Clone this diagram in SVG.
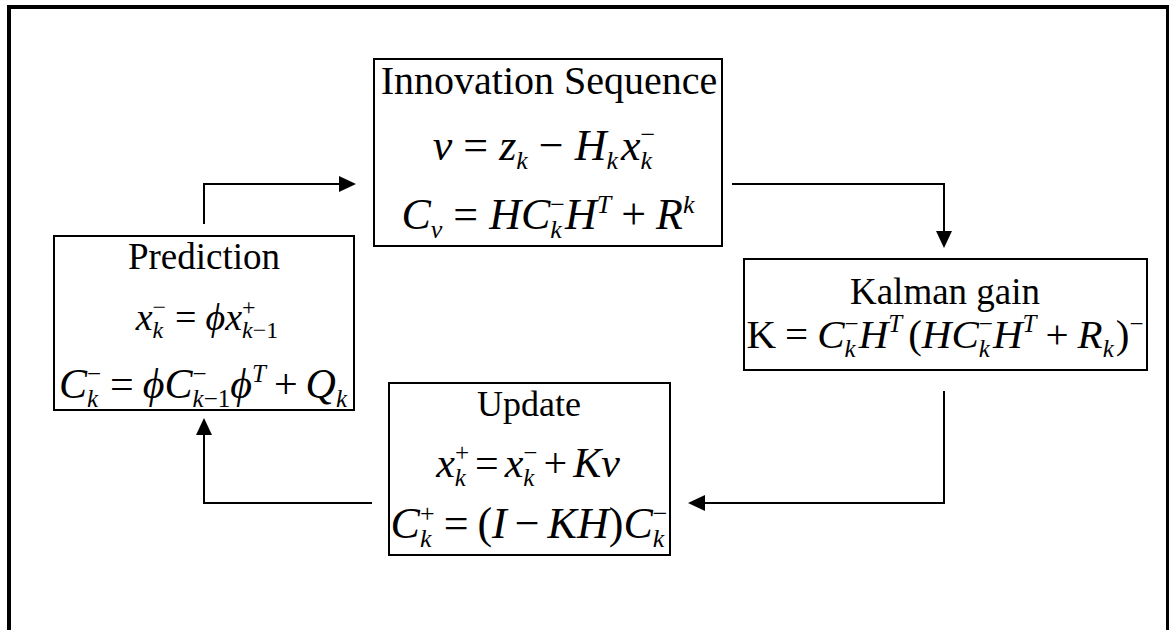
<svg xmlns="http://www.w3.org/2000/svg" width="1169" height="630" viewBox="0 0 1169 630">
<style>
.frame{fill:none;stroke:#000;stroke-width:4}
.box{fill:#fff;stroke:#000;stroke-width:2}
.conn{fill:none;stroke:#000;stroke-width:2}
.ttl{font-family:"Liberation Serif","Times New Roman",serif;text-anchor:middle;fill:#000}
.eq{font-family:"Liberation Serif","Times New Roman","DejaVu Serif",serif;font-style:italic;text-anchor:middle;fill:#000}
.r{font-style:normal}
</style>
<defs>
<marker id="ah" markerUnits="userSpaceOnUse" markerWidth="18" markerHeight="16" refX="12" refY="8" orient="auto">
<path d="M0,0 L17,8 L0,16 z" fill="#000"/>
</marker>
</defs>
<rect width="1169" height="630" fill="#fff"/>
<rect class="frame" x="9" y="7" width="1159" height="700"/>

<g id="connectors">
<path class="conn" d="M204,224 V184 H351" marker-end="url(#ah)"/>
<path class="conn" d="M732,184 H944 V243" marker-end="url(#ah)"/>
<path class="conn" d="M944,391 V503 H693" marker-end="url(#ah)"/>
<path class="conn" d="M372,503 H204 V423" marker-end="url(#ah)"/>
</g>

<g id="innovation">
<rect class="box" x="374" y="59" width="348" height="187"/>
<text class="ttl" x="549" y="94" font-size="40">Innovation Sequence</text>
<text class="eq" x="544" y="160" font-size="44">v<tspan class="r" dx="11">=</tspan><tspan dx="11">z</tspan><tspan font-size="26" dy="9">k</tspan><tspan class="r" dx="11" dy="-9">−</tspan><tspan dx="11">H</tspan><tspan font-size="26" dy="9">k</tspan><tspan dx="3" dy="-9">x</tspan><tspan font-size="26" dy="9">k</tspan><tspan class="r" font-size="26" dx="-11.5" dy="-26">−</tspan></text>
<text class="eq" x="548" y="229" font-size="44">C<tspan font-size="26" dy="9">v</tspan><tspan class="r" dx="11" dy="-9">=</tspan><tspan dx="11">HC</tspan><tspan font-size="26" dy="9">k</tspan><tspan class="r" font-size="26" dx="-11.5" dy="-25">−</tspan><tspan dy="16">H</tspan><tspan font-size="26" dy="-16">T</tspan><tspan class="r" dx="10" dy="16">+</tspan><tspan dx="10">R</tspan><tspan font-size="26" dy="-16">k</tspan></text>
</g>

<g id="prediction">
<rect class="box" x="54" y="236" width="300" height="174"/>
<text class="ttl" x="204" y="269" font-size="37">Prediction</text>
<text class="eq" x="207" y="330" font-size="38">x<tspan font-size="24" dy="8">k</tspan><tspan class="r" font-size="24" dx="-10.7" dy="-23">−</tspan><tspan class="r" dx="9" dy="15">=</tspan><tspan dx="9">ϕx</tspan><tspan class="r" font-size="24" dy="-15">+</tspan><tspan font-size="24" dx="-13.5" dy="23">k<tspan class="r">−1</tspan></tspan></text>
<text class="eq" x="203" y="398" font-size="42">C<tspan font-size="25" dy="9">k</tspan><tspan class="r" font-size="25" dx="-11.1" dy="-25">−</tspan><tspan class="r" dx="9" dy="16">=</tspan><tspan dx="9">ϕC</tspan><tspan class="r" font-size="25" dy="-16">−</tspan><tspan font-size="25" dx="-14.1" dy="25">k<tspan class="r">−1</tspan></tspan><tspan dy="-9">ϕ</tspan><tspan font-size="25" dy="-16">T</tspan><tspan class="r" dx="8" dy="16">+</tspan><tspan dx="8">Q</tspan><tspan font-size="25" dy="9">k</tspan></text>
</g>

<g id="kalman">
<rect class="box" x="744" y="259" width="403" height="111"/>
<text class="ttl" x="945" y="304" font-size="37">Kalman gain</text>
<text class="eq" x="945" y="348" font-size="41"><tspan class="r">K</tspan><tspan class="r" dx="9">=</tspan><tspan dx="9">C</tspan><tspan font-size="25" dy="9">k</tspan><tspan class="r" font-size="25" dx="-11.1" dy="-25">−</tspan><tspan dy="16">H</tspan><tspan font-size="25" dy="-16">T</tspan><tspan class="r" dx="6" dy="16">(</tspan><tspan>HC</tspan><tspan font-size="25" dy="9">k</tspan><tspan class="r" font-size="25" dx="-11.1" dy="-25">−</tspan><tspan dy="16">H</tspan><tspan font-size="25" dy="-16">T</tspan><tspan class="r" dx="9" dy="16">+</tspan><tspan dx="9">R</tspan><tspan font-size="25" dy="9">k</tspan><tspan class="r" dx="2" dy="-9">)</tspan><tspan class="r" font-size="25" dy="-16">−</tspan></text>
</g>

<g id="update">
<rect class="box" x="389" y="383" width="281" height="172"/>
<text class="ttl" x="529" y="416" font-size="36">Update</text>
<text class="eq" x="528" y="477" font-size="42">x<tspan font-size="25" dy="9">k</tspan><tspan class="r" font-size="25" dx="-11.1" dy="-25">+</tspan><tspan class="r" dx="6" dy="16">=</tspan><tspan dx="6">x</tspan><tspan font-size="25" dy="9">k</tspan><tspan class="r" font-size="25" dx="-11.1" dy="-25">−</tspan><tspan class="r" dx="6" dy="16">+</tspan><tspan dx="6">Kv</tspan></text>
<text class="eq" x="529" y="538" font-size="44">C<tspan font-size="26" dy="9">k</tspan><tspan class="r" font-size="26" dx="-11.5" dy="-25">+</tspan><tspan class="r" dx="9" dy="16">=</tspan><tspan class="r" dx="9">(</tspan><tspan>I</tspan><tspan class="r" dx="8">−</tspan><tspan dx="8">KH</tspan><tspan class="r">)</tspan><tspan>C</tspan><tspan font-size="26" dy="9">k</tspan><tspan class="r" font-size="26" dx="-11.5" dy="-25">−</tspan></text>
</g>
</svg>
